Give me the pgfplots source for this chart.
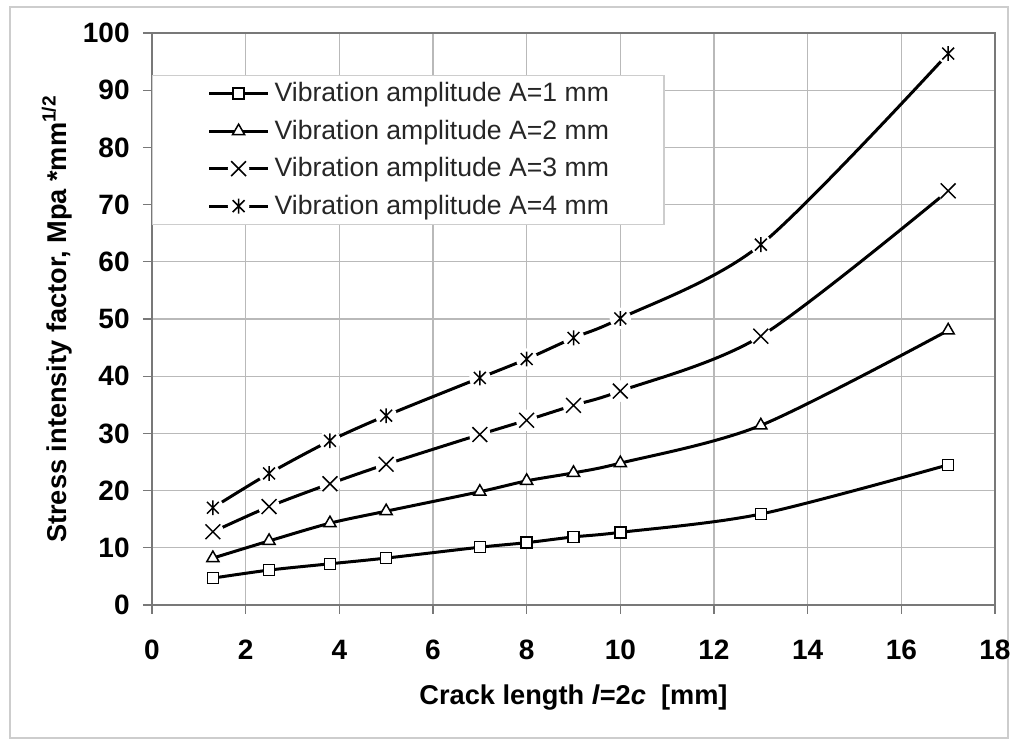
\documentclass[border=0pt]{standalone}
\usepackage{pgfplots}
\pgfplotsset{compat=1.18}
\usepackage{fontspec}
\setmainfont{Liberation Sans}

% x mark with a white halo, so the line breaks round it
\pgfdeclareplotmark{wx}{%
  \pgfpathcircle{\pgfpointorigin}{1.45\pgfplotmarksize}%
  \pgfusepathqfill
  \pgfpathmoveto{\pgfqpoint{-\pgfplotmarksize}{-\pgfplotmarksize}}%
  \pgfpathlineto{\pgfqpoint{\pgfplotmarksize}{\pgfplotmarksize}}%
  \pgfpathmoveto{\pgfqpoint{-\pgfplotmarksize}{\pgfplotmarksize}}%
  \pgfpathlineto{\pgfqpoint{\pgfplotmarksize}{-\pgfplotmarksize}}%
  \pgfusepathqstroke}
% star mark (x plus vertical bar) with a white halo
\pgfdeclareplotmark{wstar}{%
  \pgfpathcircle{\pgfpointorigin}{1.45\pgfplotmarksize}%
  \pgfusepathqfill
  \pgfpathmoveto{\pgfqpoint{-0.8\pgfplotmarksize}{-0.8\pgfplotmarksize}}%
  \pgfpathlineto{\pgfqpoint{0.8\pgfplotmarksize}{0.8\pgfplotmarksize}}%
  \pgfpathmoveto{\pgfqpoint{-0.8\pgfplotmarksize}{0.8\pgfplotmarksize}}%
  \pgfpathlineto{\pgfqpoint{0.8\pgfplotmarksize}{-0.8\pgfplotmarksize}}%
  \pgfpathmoveto{\pgfqpoint{0pt}{-\pgfplotmarksize}}%
  \pgfpathlineto{\pgfqpoint{0pt}{\pgfplotmarksize}}%
  \pgfusepathqstroke}

\definecolor{gridgray}{RGB}{185,185,185}
\definecolor{axisgray}{RGB}{120,120,120}
\definecolor{framegray}{RGB}{205,205,205}

\begin{document}
\begin{tikzpicture}
\useasboundingbox (0,0) rectangle (506.5pt,371pt);
\draw[framegray, line width=0.8pt] (5pt,2pt) rectangle (504pt,367.5pt);
\begin{axis}[
    at={(76pt,68.5pt)}, anchor=south west,
    scale only axis,
    width=421.5pt, height=286pt,
    xmin=0, xmax=18, ymin=0, ymax=100,
    xtick={0,2,...,18}, ytick={0,10,...,100},
    grid=major,
    grid style={gridgray, line width=0.6pt},
    axis line style={axisgray, line width=0.8pt},
    tick style={axisgray, line width=0.6pt},
    tick align=outside,
    major tick length=4.5pt,
    xtick pos=bottom, ytick pos=left,
    /pgf/number format/assume math mode=true,
    ticklabel style={font=\bfseries\fontsize{14}{14}\selectfont},
    xticklabel style={inner sep=0pt, anchor=center, yshift=-18pt,
        text height=9.9pt, text depth=0pt},
    yticklabel style={inner sep=0pt, anchor=east, xshift=-6.5pt},
    xlabel={Crack length \textit{l}=2\textit{c}\ \ [mm]},
    ylabel={Stress intensity factor, Mpa *mm\textsuperscript{1/2}},
    label style={font=\bfseries\fontsize{13.6}{15}\selectfont},
    xlabel style={at={(axis description cs:0.5,-0.161)}, anchor=center},
    ylabel style={at={(axis description cs:-0.113,0.5)}, anchor=center},
    legend style={at={(axis description cs:0,0.9266)}, anchor=north west,
        draw=framegray, fill=white, line width=0.6pt,
        font=\fontsize{13.3}{14}\selectfont, text=black!85,
        inner xsep=27.5pt, inner ysep=2pt,
        row sep=4.6pt, column sep=2.5pt,
        nodes={inner xsep=0pt, inner ysep=1.5pt}},
    legend cell align=left,
    legend image code/.code={\draw[mark repeat=2,mark phase=2,#1]
        plot coordinates {(0pt,0pt) (14.75pt,0pt) (29.5pt,0pt)};},
    every axis plot/.append style={black, line width=1.5pt, smooth,
        mark options={solid, line width=0.75pt, fill=white}},
]

\addplot[mark=square*, mark size=2.75pt] coordinates {
    (1.3,4.7) (2.5,6.1) (3.8,7.2) (5,8.2) (7,10.1) (8,10.9)
    (9,11.9) (10,12.7) (13,15.9) (17,24.5)
};
\addlegendentry{Vibration amplitude A=1 mm}

\addplot[mark=triangle*, mark size=3.5pt] coordinates {
    (1.3,8.2) (2.5,11.2) (3.8,14.3) (5,16.4) (7,19.8) (8,21.7)
    (9,23.1) (10,24.8) (13,31.4) (17,48.0)
};
\addlegendentry{Vibration amplitude A=2 mm}

\addplot[mark=wx, mark size=3.7pt] coordinates {
    (1.3,12.8) (2.5,17.2) (3.8,21.2) (5,24.6) (7,29.8) (8,32.3)
    (9,34.9) (10,37.4) (13,47.0) (17,72.4)
};
\addlegendentry{Vibration amplitude A=3 mm}

\addplot[mark=wstar, mark size=3.7pt] coordinates {
    (1.3,17.0) (2.5,23.0) (3.8,28.7) (5,33.1) (7,39.7) (8,43.0)
    (9,46.7) (10,50.1) (13,63.0) (17,96.4)
};
\addlegendentry{Vibration amplitude A=4 mm}

\end{axis}
\end{tikzpicture}
\end{document}
